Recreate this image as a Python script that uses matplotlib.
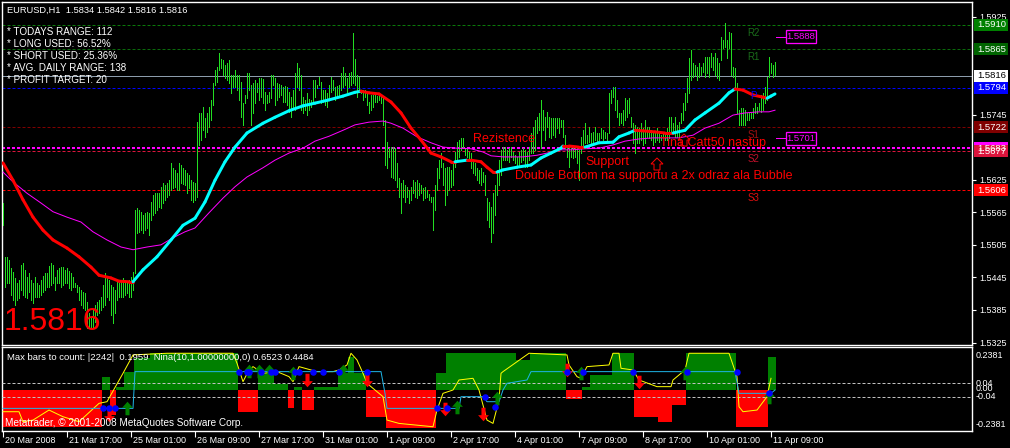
import numpy as np
import matplotlib
matplotlib.use("Agg")
import matplotlib.pyplot as plt
from matplotlib.patches import Rectangle, Polygon
from matplotlib.path import Path
from matplotlib.transforms import offset_copy

plt.rcParams['font.family'] = ['Liberation Sans', 'DejaVu Sans']
plt.rcParams['lines.scale_dashes'] = False

W, H = 1010, 448

# ---------------- data ----------------
title_text = "EURUSD,H1  1.5834 1.5842 1.5816 1.5816"
info_lines = ["* TODAYS RANGE: 112", "* LONG USED: 56.52%", "* SHORT USED: 25.36%",
              "* AVG. DAILY RANGE: 138", "* PROFIT TARGET: 20"]
last_price_text = "1.5816"

# hourly bar highs / lows in 1/10000 (price = value / 10000)
bar_high = [
15582,15483,15483,15477,15462,15455,15444,15435,15440,15468,
15472,15459,15446,15453,15440,15435,15446,15435,15431,15440,
15448,15453,15453,15466,15472,15468,15446,15459,15462,15464,
15464,15459,15462,15457,15453,15446,15435,15431,15427,15422,
15418,15416,15400,15379,15372,15385,15394,15400,15403,15409,
15431,15453,15446,15440,15431,15427,15422,15440,15435,15440,
15444,15440,15435,15440,15446,15455,15569,15573,15569,15566,
15560,15564,15566,15564,15584,15597,15600,15600,15600,15612,
15619,15615,15619,15624,15656,15647,15643,15637,15656,15652,
15647,15643,15637,15634,15624,15621,15619,
15731,15748,15748,15759,15739,15748,15759,15772,15803,15827,
15833,15858,15847,15845,15836,15840,15845,15818,15818,15827,
15818,15818,15805,15766,15781,15821,15821,15799,15803,15809,
15803,15812,15812,15810,15786,15781,15786,15818,15818,15812,
15803,15801,15799,15796,15798,15796,15786,15777,15790,15821,
15840,15831,15818,15777,15772,15785,15774,15772,15809,15809,
15799,15814,15805,15790,15790,15785,15799,15814,15809,15796,
15798,15799,15821,15833,15821,15812,15821,15823,15895,15847,
15818,15814,15790,15790,15790,15786,15768,15781,15781,15781,
15779,15781,15777,15777,15735,15694,15683,
15685,15685,15683,15656,15628,15619,15624,15615,15612,15606,
15612,15624,15621,15624,15619,15615,15610,15612,15606,15599,
15593,15593,15615,15647,15661,15674,15656,15647,15648,15648,
15643,15658,15676,15694,15698,15702,15702,15683,15683,15676,
15674,15661,15656,15647,15643,15647,15639,15634,15591,15584,
15575,15600,15615,15643,15661,15680,15685,15685,15680,15683,
15685,15676,15670,15667,15676,15680,15683,15680,15676,15685,
15711,15722,15735,15740,15748,15772,15753,15740,15750,15740,
15739,15739,15739,15739,15739,15735,15735,15707,15685,15683,
15683,15683,15683,15683,15680,15704,15716,
15729,15707,15722,15711,15713,15722,15711,15711,15720,15716,
15713,15711,15785,15790,15796,15796,15772,15748,15748,15753,
15775,15772,15775,15740,15729,15726,15722,15720,15729,15720,
15735,15722,15722,15716,15711,15711,15720,15711,15707,15711,
15713,15720,15740,15740,15729,15740,15726,15731,15748,15766,
15785,15812,15849,15864,15840,15836,15833,15840,15833,15840,
15851,15851,15851,15858,15851,15858,15849,15840,15888,15882,
15914,15882,15897,15895,15833,15831,15803,15753,15757,15757,
15753,15748,15748,15748,15757,15766,15759,15766,15781,15785,
15796,15814,15851,15840,15836,15842]
bar_low = [
15541,15427,15435,15435,15413,15403,15394,15403,15407,15422,
15413,15409,15407,15418,15403,15398,15409,15409,15409,15413,
15418,15422,15427,15427,15431,15435,15422,15435,15435,15427,
15431,15435,15435,15426,15422,15427,15427,15418,15403,15394,
15389,15385,15352,15352,15352,15354,15363,15376,15379,15385,
15390,15394,15409,15403,15376,15361,15379,15403,15409,15409,
15409,15413,15416,15409,15409,15422,15453,15527,15529,15532,
15527,15532,15536,15523,15551,15560,15564,15569,15575,15573,
15582,15588,15593,15597,15606,15610,15612,15606,15606,15619,
15617,15615,15600,15610,15588,15584,15588,
15593,15689,15698,15716,15704,15713,15722,15735,15763,15799,
15805,15827,15831,15818,15812,15809,15803,15785,15796,15796,
15790,15772,15740,15726,15766,15775,15790,15726,15748,15766,
15786,15772,15777,15766,15753,15766,15768,15775,15799,15763,
15772,15777,15781,15768,15768,15763,15750,15740,15757,15753,
15796,15790,15753,15748,15753,15744,15753,15759,15768,15777,
15794,15799,15766,15768,15763,15759,15772,15786,15790,15772,
15775,15777,15790,15796,15799,15786,15796,15799,15803,15799,
15777,15786,15785,15772,15777,15763,15748,15753,15759,15768,
15768,15772,15766,15726,15652,15647,15667,
15630,15628,15624,15612,15593,15564,15593,15584,15593,15582,
15588,15600,15593,15591,15597,15600,15588,15591,15593,15588,
15584,15532,15569,15606,15628,15648,15615,15578,15597,15606,
15612,15615,15648,15661,15667,15680,15683,15670,15667,15661,
15647,15637,15634,15624,15619,15615,15621,15597,15551,15538,
15510,15527,15560,15597,15615,15634,15661,15661,15661,15658,
15667,15661,15656,15648,15652,15658,15661,15648,15648,15661,
15674,15674,15680,15711,15716,15683,15716,15698,15722,15704,
15702,15707,15704,15720,15711,15722,15704,15683,15667,15648,
15667,15665,15667,15656,15624,15674,15685,
15693,15693,15694,15693,15693,15698,15694,15698,15702,15698,
15702,15698,15711,15766,15777,15753,15740,15726,15729,15726,
15735,15740,15748,15722,15693,15674,15693,15693,15698,15689,
15693,15704,15702,15698,15689,15694,15698,15694,15698,15702,
15698,15698,15702,15711,15711,15704,15704,15702,15729,15735,
15753,15768,15785,15809,15814,15818,15809,15814,15818,15823,
15814,15821,15814,15833,15827,15818,15812,15809,15845,15868,
15869,15849,15868,15818,15814,15796,15748,15726,15726,15726,
15726,15735,15735,15739,15739,15748,15748,15753,15750,15753,
15766,15772,15814,15821,15814,15818]

# fast moving average (two-colour line), sampled at bar numbers
fast_ma_bar = [0,5,10,15,20,25,32,38,44,48,54,58,63,65,70,77,84,90,96,101,
               106,111,116,122,130,136,143,150,156,163,170,176,179,183,188,194,199,204,209,214,
               219,224,226,232,234,239,242,245,247,250,257,264,269,274,279,280,283,288,291,298,
               305,308,313,316,320,326,331,335,341,346,351,358,363,366,370,375,380,382,384,386]
fast_ma_val = [15656,15624,15588,15556,15532,15514,15499,15483,15464,15449,
               15444,15438,15437,15437,15459,15483,15514,15541,15554,15584,
               15624,15658,15685,15711,15729,15740,15752,15761,15766,15772,
               15779,15786,15788,15785,15783,15768,15748,15720,15698,15674,
               15667,15658,15658,15661,15661,15658,15648,15639,15639,15643,
               15648,15652,15665,15674,15683,15687,15687,15685,15685,15693,
               15694,15704,15711,15716,15715,15713,15711,15711,15716,15735,
               15748,15766,15785,15792,15790,15781,15777,15775,15779,15783]
slow_ma_bar = [0,5,12,19,25,32,39,45,52,59,65,72,79,85,91,96,103,110,116,122,
               130,136,143,150,156,163,170,176,183,190,194,200,207,214,220,227,234,240,244,250,
               260,267,272,279,285,291,298,305,311,318,325,331,338,345,351,358,365,371,378,383,386]
slow_ma_val = [15639,15621,15600,15582,15566,15556,15547,15529,15514,15501,
               15496,15501,15505,15518,15529,15536,15564,15591,15612,15630,
               15647,15661,15674,15683,15696,15705,15716,15726,15731,15733,
               15729,15720,15704,15693,15685,15683,15682,15676,15669,15667,
               15667,15670,15674,15680,15680,15682,15683,15689,15696,15700,
               15702,15702,15702,15707,15720,15729,15744,15748,15750,15750,15753]

# horizontal levels
level_price = [1.5910, 1.5865, 1.5816, 1.5794, 1.5722, 1.5683, 1.5677, 1.5606]
level_color = ['#0a7a0a', '#0a6a0a', '#8c9cac', '#0000ff', '#800000', '#ff00ff', '#dc143c', '#ff0000']
level_box_text = ['1.5910', '1.5865', '1.5816', '1.5794', '1.5722', '1.5683', '1.5677', '1.5606']
level_box_face = ['#008000', '#006400', '#ffffff', '#0000ff', '#800000', '#ff00ff', '#dc143c', '#ff0000']
level_box_tc = ['white', 'white', 'black', 'white', 'white', 'white', 'white', 'white']
pivot_names = ['R2', 'R1', 'P', 'S1', 'S2', 'S3']
pivot_price = [1.5910, 1.5865, 1.5794, 1.5722, 1.5677, 1.5606]
pivot_color = ['#1a6a1a', '#1a6a1a', '#0000ff', '#a01010', '#c0102a', '#e01010']
target_price = [1.5888, 1.5701]

price_ticks = [1.5325, 1.5385, 1.5445, 1.5505, 1.5565, 1.5625, 1.5745, 1.5925]
time_tick_bar = [0, 32, 64, 96, 128, 160, 192, 224, 256, 288, 320, 352, 384]
time_tick_label = ["20 Mar 2008", "21 Mar 17:00", "25 Mar 01:00", "26 Mar 09:00", "27 Mar 17:00",
                   "31 Mar 01:00", "1 Apr 09:00", "2 Apr 17:00", "4 Apr 01:00", "7 Apr 09:00",
                   "8 Apr 17:00", "10 Apr 01:00", "11 Apr 09:00"]

# lower indicator window
ind_caption = "Max bars to count: |2242|  0.1959  Nina(10,1.00000000,0) 0.6523 0.4484"
hist_run_len = [50, 4, 3, 4, 5, 8, 44, 10, 8, 7, 3, 4, 6, 12, 5, 3, 6, 10, 25, 5, 27, 8, 7, 18, 8, 4,
                11, 11, 12, 7, 7, 25, 16, 4]
hist_run_val = [-0.22, 0.08, -0.15, 0.015, 0.11, 0.19, 0.22, -0.13, 0.10, 0.035, -0.11, 0.02, -0.12, 0.02,
                0.10, 0.20, 0.10, -0.16, -0.23, 0.10, 0.22, 0.22, 0.18, 0.22, -0.055, 0.02, 0.09, 0.22,
                -0.16, -0.19, -0.09, 0.22, -0.22, 0.20]
yellow_bar = [0,8,10,15,23,30,38,48,52,60,65,82,97,115,117,120,123,125,130,137,
              143,145,148,157,165,168,172,174,177,180,182,190,192,198,215,217,220,225,228,235,
              238,242,245,248,249,250,263,282,283,287,289,292,303,305,308,309,315,318,327,334,
              335,341,343,363,365,367,368,370,377,382,384]
yellow_val = [-0.13,-0.13,-0.19,-0.18,-0.12,-0.16,-0.19,-0.08,-0.07,0.10,
              0.21,0.22,0.22,0.22,0.16,0.05,0.12,0.14,0.10,0.11,
              0.08,0.05,0.14,0.11,0.11,0.12,0.15,0.22,0.18,0.10,
              0.04,-0.04,-0.18,-0.20,-0.22,-0.12,-0.02,0.0,0.06,0.07,
              0.0,-0.18,-0.20,-0.06,0.10,0.11,0.22,0.21,0.15,0.08,
              0.07,0.14,0.15,0.22,0.22,0.13,0.12,0.06,0.02,0.02,
              0.06,0.12,0.22,0.22,0.15,0.08,-0.10,-0.13,-0.12,-0.04,0.07]
signal_bar = [0,65,66,189,191,192,228,229,240,242,248,250,252,262,264,366,368,384,386]
signal_val = [-0.11,-0.11,0.11,0.11,-0.02,-0.11,-0.11,-0.04,-0.04,-0.07,-0.07,0.0,0.04,0.06,0.11,0.11,-0.02,-0.02,0.0]
dot_bar = [50,53,56,118,122,123,129,134,136,146,148,155,160,168,182,217,222,241,246,282,290,315,342,367,383]
dot_val = [-0.11,-0.11,-0.11,0.11,0.11,0.11,0.11,0.11,0.11,0.11,0.11,0.11,0.11,0.11,0.11,
           -0.11,-0.11,-0.04,-0.10,0.11,0.11,0.11,0.11,0.11,-0.02]
up_bar = [62,123,128,133,145,170,227,247,289,341,383]
up_val = [-0.07,0.15,0.15,0.15,0.14,0.15,-0.06,-0.01,0.14,0.14,0.0]
down_bar = [53,152,182,221,240,282,318]
down_val = [-0.19,0.02,0.02,-0.15,-0.18,0.08,0.01]
ind_labels = ["0.2381", "0.04", "0.00", "-0.04", "-0.2381"]

# ---------------- figure ----------------
fig = plt.figure(figsize=(W/100, H/100), dpi=100, facecolor='black')
PT = 0.72  # points per pixel


def fx(x):
    return x / W


def fy(y):
    return 1 - y / H


ax = fig.add_axes([fx(2), fy(345), 970 / W, 343 / H], facecolor='black')
axs = fig.add_axes([fx(2), fy(431), 970 / W, 84 / H], facecolor='black')
for a in (ax, axs):
    a.set_xlim(-0.5, 484.5)
    for s in a.spines.values():
        s.set_color('white')
        s.set_linewidth(1.0)
    a.tick_params(colors='white', labelcolor='white', width=0.8)
ax.set_ylim(1.53205, 1.59523)
axs.set_ylim(-0.2455, 0.2575)

# price bars
hi = np.array(bar_high) / 10000.0
lo = np.array(bar_low) / 10000.0
idx = np.arange(len(hi))
ax.vlines(idx, lo, hi, colors='#22dd22', linewidth=1 * PT, antialiased=False, zorder=3)

# levels
for p, c in zip(level_price, level_color):
    if abs(p - 1.5816) < 1e-6:
        ax.axhline(p, color=c, lw=1 * PT, zorder=2)
    elif abs(p - 1.5683) < 1e-6:
        ax.axhline(p, color=c, lw=2 * PT, dashes=(3 * PT, 2 * PT), zorder=2)
    else:
        ax.axhline(p, color=c, lw=1 * PT, dashes=(3 * PT, 2 * PT), zorder=2)

# moving averages
ax.plot(slow_ma_bar, np.array(slow_ma_val) / 10000.0, color='#ff00ff', lw=1 * PT, zorder=4)
fv = np.array(fast_ma_val) / 10000.0
for k in range(len(fast_ma_bar) - 1):
    col = '#00ffff' if fv[k + 1] > fv[k] else '#ff0000'
    ax.plot(fast_ma_bar[k:k + 2], fv[k:k + 2], color=col, lw=3 * PT, solid_capstyle='round', zorder=5)

# pivot names
tr_pv = offset_copy(ax.transData, fig=fig, x=0, y=-3, units='dots')
for n, p, c in zip(pivot_names, pivot_price, pivot_color):
    ax.text(375, p, n, transform=tr_pv, color=c, fontsize=7, ha='center', va='top', zorder=6)

# right axis
ax.yaxis.tick_right()
ax.set_yticks(price_ticks)
ax.set_yticklabels([f"{t:.4f}" for t in price_ticks], fontsize=6.5)
ax.tick_params(axis='y', length=3, pad=2, direction='out')
ax.set_xticks([])

fig.canvas.draw()


def to_fig_y(a, v):
    disp = a.transData.transform((0, v))
    return fig.transFigure.inverted().transform(disp)[1]


# target boxes (magenta)
for p in target_price:
    yc = to_fig_y(ax, p)
    ax.plot([386.5, 391.5], [p, p], color='#ff00ff', lw=1 * PT, zorder=6, clip_on=False)
    fig.add_artist(Rectangle((fx(786), yc - 6.5 / H), 30 / W, 13 / H, transform=fig.transFigure,
                             facecolor='black', edgecolor='#ff00ff', lw=1.3 * PT, zorder=10))
    fig.text(fx(801), yc, f"{p:.4f}", color='#ff00ff', fontsize=6.8, ha='center', va='center', zorder=11)

# level boxes on the price axis
for p, t, fc, tc in zip(level_price, level_box_text, level_box_face, level_box_tc):
    yc = to_fig_y(ax, p)
    fig.add_artist(Rectangle((fx(974), yc - 6 / H), 34 / W, 12 / H, transform=fig.transFigure,
                             facecolor=fc, edgecolor='none', zorder=10))
    fig.text(fx(977), yc, t, color=tc, fontsize=6.8, ha='left', va='center', zorder=11)

# texts in main window
fig.text(fx(7), fy(10.5), title_text, color='white', fontsize=6.7, ha='left', va='center')
for k, s in enumerate(info_lines):
    fig.text(fx(7), fy(32 + 12 * k), s, color='white', fontsize=7.1, ha='left', va='center')
fig.text(fx(4), fy(322), last_price_text, color='#ff0000', fontsize=23, ha='left', va='center',
         family=['Liberation Sans Narrow', 'Liberation Sans'])
fig.text(fx(473), fy(139), "Rezistence", color='#ff0000', fontsize=9, ha='left', va='center')
fig.text(fx(585), fy(161.5), "Support", color='#ff0000', fontsize=9, ha='left', va='center')
fig.text(fx(515), fy(175.5), "Double Bottom na supportu a 2x odraz ala Bubble", color='#ff0000',
         fontsize=9, ha='left', va='center')
fig.text(fx(660), fy(142.5), "Tina Catt50 nastup", color='#ff0000', fontsize=9, ha='left', va='center')
for (axp, ayp) in [(657, 158), (684, 134)]:
    pts = [(axp, ayp), (axp + 6, ayp + 6), (axp + 3, ayp + 6), (axp + 3, ayp + 12), (axp - 3, ayp + 12),
           (axp - 3, ayp + 6), (axp - 6, ayp + 6)]
    fig.add_artist(Polygon([(fx(a), fy(b)) for a, b in pts], closed=True, fill=False,
                           edgecolor='#ff0000', lw=1 * PT, transform=fig.transFigure))

# ---------------- indicator window ----------------
hist = np.repeat(hist_run_val, hist_run_len)
hcol = np.where(hist >= 0, '#008000', '#ff0000')
axs.bar(np.arange(len(hist)), hist, width=1.0, color=hcol, linewidth=0, zorder=2)
axs.axhline(0.04, color='#c0c0c0', lw=1 * PT, dashes=(3 * PT, 2 * PT), zorder=3)
axs.axhline(-0.04, color='#c0c0c0', lw=1 * PT, dashes=(3 * PT, 2 * PT), zorder=3)
axs.plot(yellow_bar, yellow_val, color='#ffff00', lw=1 * PT, zorder=4)
axs.plot(signal_bar, signal_val, color='#1eb4e6', lw=1 * PT, zorder=4)

up_path = Path([(0, 1), (0.8, 0.1), (0.3, 0.1), (0.3, -1), (-0.3, -1), (-0.3, 0.1), (-0.8, 0.1), (0, 1)],
               [Path.MOVETO] + [Path.LINETO] * 6 + [Path.CLOSEPOLY])
down_path = Path([(0, -1), (0.8, -0.1), (0.3, -0.1), (0.3, 1), (-0.3, 1), (-0.3, -0.1), (-0.8, -0.1), (0, -1)],
                 [Path.MOVETO] + [Path.LINETO] * 6 + [Path.CLOSEPOLY])
half = 6.5 / 167
axs.scatter(up_bar, np.array(up_val) - half, marker=up_path, s=95, c='#008000', linewidths=0, zorder=5)
axs.scatter(down_bar, np.array(down_val) + half, marker=down_path, s=95, c='#ff0000', linewidths=0, zorder=5)
axs.scatter(dot_bar, dot_val, s=22, c='#0000ff', linewidths=0, zorder=6)

axs.set_yticks([])
axs.set_xticks(time_tick_bar)
axs.set_xticklabels([])
axs.tick_params(axis='x', length=4, direction='out', width=0.8, colors='white')

for t, yy in zip(ind_labels, [355, 383, 388.5, 396, 424]):
    fig.text(fx(976), fy(yy), t, color='white', fontsize=6.5, ha='left', va='center')
fig.text(fx(7), fy(357), ind_caption, color='white', fontsize=6.8, ha='left', va='center')
fig.text(fx(5), fy(422.5), "Metatrader, \u00a9 2001-2008 MetaQuotes Software Corp.", color='white',
         fontsize=7.2, ha='left', va='center')

for b, lab in zip(time_tick_bar, time_tick_label):
    fig.text(fx(3 + 2 * b + 2), fy(440), lab, color='white', fontsize=6.5, ha='left', va='center')

fig.savefig("out.png", dpi=100, facecolor='black')
